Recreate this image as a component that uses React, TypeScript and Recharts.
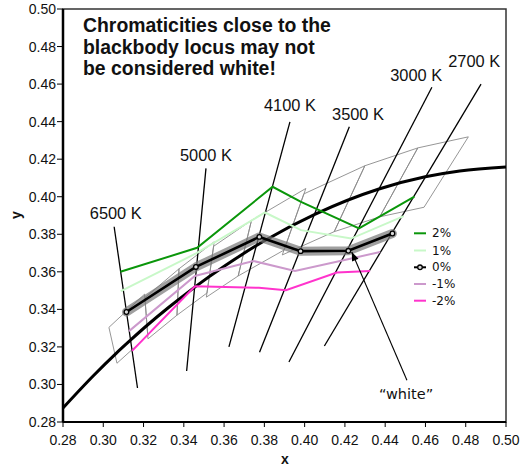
import React from "react";
import { ScatterChart, Scatter, XAxis, YAxis, ReferenceArea } from "recharts";

const axisTicks = [0.28, 0.3, 0.32, 0.34, 0.36, 0.38, 0.4, 0.42, 0.44, 0.46, 0.48, 0.5];

// blackbody locus
const locusX = [0.28, 0.2952, 0.3064, 0.3135, 0.3221, 0.3324, 0.3451, 0.3608, 0.3805, 0.4053, 0.4369, 0.4599, 0.477, 0.5];
const locusY = [0.2875, 0.3048, 0.3166, 0.3236, 0.3318, 0.341, 0.3516, 0.3635, 0.3768, 0.3907, 0.4041, 0.4106, 0.4137, 0.4158];

// isotemperature lines + labels
const cctNames = ["6500 K", "5000 K", "4100 K", "3500 K", "3000 K", "2700 K"];
const isoTopX = [0.3054, 0.351, 0.3927, 0.4222, 0.4632, 0.4876];
const isoTopY = [0.384, 0.4151, 0.4399, 0.4373, 0.4583, 0.46];
const isoBottomX = [0.317, 0.3414, 0.3624, 0.3776, 0.3922, 0.4098];
const isoBottomY = [0.2981, 0.3072, 0.32, 0.3172, 0.312, 0.3205];
const cctLabelX = [0.3062, 0.351, 0.3927, 0.4265, 0.4554, 0.4842];
const cctLabelY = [0.3913, 0.4222, 0.4488, 0.444, 0.4648, 0.4723];

// quadrangles (6500, 5700, 5000, 4500, 4000, 3500, 3000, 2700 K)
const quadX = [
  [0.3205, 0.3028, 0.3068, 0.3221],
  [0.3376, 0.3207, 0.3222, 0.3366],
  [0.3551, 0.3376, 0.3366, 0.3515],
  [0.3736, 0.3548, 0.3512, 0.367],
  [0.4006, 0.3736, 0.367, 0.3898],
  [0.4299, 0.3996, 0.3889, 0.4147],
  [0.4562, 0.4299, 0.4147, 0.4373],
  [0.4813, 0.4562, 0.4373, 0.4593],
];
const quadY = [
  [0.3481, 0.3304, 0.3113, 0.3261],
  [0.3616, 0.3462, 0.3243, 0.3369],
  [0.376, 0.3616, 0.3369, 0.3487],
  [0.3874, 0.3736, 0.3465, 0.3578],
  [0.4044, 0.3874, 0.3578, 0.3716],
  [0.4165, 0.4015, 0.369, 0.3814],
  [0.426, 0.4165, 0.3814, 0.3893],
  [0.4319, 0.426, 0.3893, 0.3944],
];

// Duv offset series
const seriesNames = ["2%", "1%", "0%", "-1%", "-2%"];
const plus2X = [0.3085, 0.3466, 0.3841, 0.3982, 0.427, 0.4545];
const plus2Y = [0.36, 0.3728, 0.4053, 0.3973, 0.3831, 0.4];
const plus1X = [0.3087, 0.3463, 0.3803, 0.3982, 0.4231, 0.4492];
const plus1Y = [0.3497, 0.3699, 0.3916, 0.3822, 0.3777, 0.3897];
const zeroX = [0.3115, 0.346, 0.3775, 0.398, 0.4217, 0.4436];
const zeroY = [0.3386, 0.3626, 0.3786, 0.371, 0.3712, 0.3804];
const minus1X = [0.3128, 0.3455, 0.3745, 0.3952, 0.4215, 0.4375];
const minus1Y = [0.3284, 0.3578, 0.3658, 0.3605, 0.3667, 0.3706];
const minus2X = [0.3143, 0.3455, 0.3773, 0.3907, 0.416, 0.4325];
const minus2Y = [0.3179, 0.3523, 0.3515, 0.3502, 0.3596, 0.3605];

// "white" arrow
const whiteArrowX = [0.4508, 0.4234];
const whiteArrowY = [0.3022, 0.3706];
const whiteLabel = "\u201cwhite\u201d";
const whiteLabelX = [0.4504];
const whiteLabelY = [0.2948];

const colors = ["#0a960a", "#c8f8c8", "#000000", "#cc99cc", "#ff33cc"];
const ARIAL = "'Liberation Sans', Arial, sans-serif";
const VERDANA = "'DejaVu Sans', Verdana, sans-serif";

const pts = (xs: number[], ys: number[]) => xs.map((x, i) => ({ x, y: ys[i] }));
const closed = (xs: number[], ys: number[]) => pts([...xs, xs[0]], [...ys, ys[0]]);
const noDot = () => <g />;

const arrowAngle = (Math.atan2(-128.3, -55) * 180) / Math.PI;

function ArrowHead(p: any) {
  if (!p.payload || !p.payload.tip) return <g />;
  return (
    <polygon
      points="0,0 -9,-3.5 -9,3.5"
      transform={`translate(${p.cx},${p.cy}) rotate(${arrowAngle})`}
      fill="#000"
    />
  );
}

function TextMark(p: any) {
  return (
    <text
      x={p.cx}
      y={p.cy}
      textAnchor="middle"
      dominantBaseline="central"
      style={{ fontFamily: p.payload.font, fontSize: p.payload.fs }}
      fill="#111"
    >
      {p.payload.label}
    </text>
  );
}

function OpenDot(p: any) {
  return <circle cx={p.cx} cy={p.cy} r={2.3} fill="#d8d8d8" stroke="#000" strokeWidth={1.3} />;
}

const seriesX = [plus2X, plus1X, zeroX, minus1X, minus2X];
const seriesY = [plus2Y, plus1Y, zeroY, minus1Y, minus2Y];

export default function App() {
  const cctLabelData = cctNames.map((label, i) => ({
    x: cctLabelX[i],
    y: cctLabelY[i],
    label,
    font: ARIAL,
    fs: 16.4,
  }));
  const whiteData = [{ x: whiteLabelX[0], y: whiteLabelY[0], label: whiteLabel, font: VERDANA, fs: 14.5 }];
  const arrowData = pts(whiteArrowX, whiteArrowY).map((d, i) => ({ ...d, tip: i === 1 }));
  const legendY = [233.3, 250.5, 267.3, 284, 300.7];

  return (
    <div style={{ position: "relative", width: 522, height: 467 }}>
      <style>{"body{margin:0}"}</style>
      <ScatterChart width={522} height={467} margin={{ top: 9, right: 16, bottom: 15, left: 0 }}>
        <XAxis
          type="number"
          dataKey="x"
          domain={[0.28, 0.5]}
          ticks={axisTicks}
          interval={0}
          allowDataOverflow
          tickFormatter={(v: number) => v.toFixed(2)}
          height={30}
          tickSize={5}
          tickMargin={8}
          axisLine={{ stroke: "#000", strokeWidth: 2 }}
          tickLine={{ stroke: "#000" }}
          tick={{ fill: "#111", fontSize: 14, fontFamily: ARIAL }}
        />
        <YAxis
          type="number"
          dataKey="y"
          domain={[0.28, 0.5]}
          ticks={axisTicks}
          interval={0}
          allowDataOverflow
          tickFormatter={(v: number) => v.toFixed(2)}
          width={63}
          tickSize={6}
          tickMargin={1}
          axisLine={{ stroke: "#000", strokeWidth: 2.5 }}
          tickLine={{ stroke: "#000" }}
          tick={{ fill: "#111", fontSize: 14, fontFamily: ARIAL }}
        />
        <ReferenceArea x1={0.28} x2={0.5} y1={0.28} y2={0.5} fill="none" stroke="#333" strokeWidth={1.5} />

        {quadX.map((xs, i) => (
          <Scatter
            key={"q" + i}
            data={closed(xs, quadY[i])}
            fill="#8a8a8a"
            line={{ stroke: "#8a8a8a", strokeWidth: 0.9 }}
            shape={noDot}
            isAnimationActive={false}
          />
        ))}

        {cctNames.map((n, i) => (
          <Scatter
            key={"iso" + n}
            data={pts([isoTopX[i], isoBottomX[i]], [isoTopY[i], isoBottomY[i]])}
            fill="#000"
            line={{ stroke: "#000", strokeWidth: 1.3 }}
            shape={noDot}
            isAnimationActive={false}
          />
        ))}

        <Scatter
          data={pts(locusX, locusY)}
          fill="#000"
          line={{ stroke: "#000", strokeWidth: 3 }}
          lineJointType="monotoneX"
          shape={noDot}
          isAnimationActive={false}
        />

        {/* gray halo behind the 0% line */}
        <Scatter
          data={pts(zeroX, zeroY)}
          fill="#777"
          line={{ stroke: "#777", strokeWidth: 9, strokeOpacity: 0.7, strokeLinecap: "round", strokeLinejoin: "round" }}
          shape={noDot}
          isAnimationActive={false}
        />

        {seriesNames.map((n, i) => (
          <Scatter
            key={"s" + n}
            data={pts(seriesX[i], seriesY[i])}
            fill={colors[i]}
            line={{ stroke: colors[i], strokeWidth: i === 2 ? 2.6 : 2 }}
            shape={i === 2 ? OpenDot : noDot}
            isAnimationActive={false}
          />
        ))}

        <Scatter
          data={arrowData}
          fill="#000"
          line={{ stroke: "#000", strokeWidth: 1.1 }}
          shape={ArrowHead}
          isAnimationActive={false}
        />

        <Scatter data={cctLabelData} fill="#000" shape={TextMark} isAnimationActive={false} />
        <Scatter data={whiteData} fill="#000" shape={TextMark} isAnimationActive={false} />
      </ScatterChart>

      <svg
        width={522}
        height={467}
        style={{ position: "absolute", left: 0, top: 0, pointerEvents: "none" }}
      >
        <g fontFamily={ARIAL} fontWeight="bold" fontSize={19.4} fill="#111">
          <text x={83} y={32.3}>Chromaticities close to the</text>
          <text x={83} y={53.8}>blackbody locus may not</text>
          <text x={83} y={75.3}>be considered white!</text>
        </g>
        <text x={285} y={464} textAnchor="middle" fontFamily={ARIAL} fontWeight="bold" fontSize={14} fill="#111">
          x
        </text>
        <text
          x={0}
          y={0}
          transform="translate(21,215) rotate(-90)"
          textAnchor="middle"
          fontFamily={ARIAL}
          fontWeight="bold"
          fontSize={14}
          fill="#111"
        >
          y
        </text>
        {seriesNames.map((n, i) => (
          <g key={"lg" + n}>
            <line x1={414} x2={426} y1={legendY[i]} y2={legendY[i]} stroke={colors[i]} strokeWidth={2} />
            {i === 2 && <circle cx={420} cy={legendY[i]} r={2.3} fill="#d8d8d8" stroke="#000" strokeWidth={1.3} />}
            <text x={432} y={legendY[i]} dominantBaseline="central" fontFamily={VERDANA} fontSize={12} fill="#111">
              {n}
            </text>
          </g>
        ))}
      </svg>
    </div>
  );
}
